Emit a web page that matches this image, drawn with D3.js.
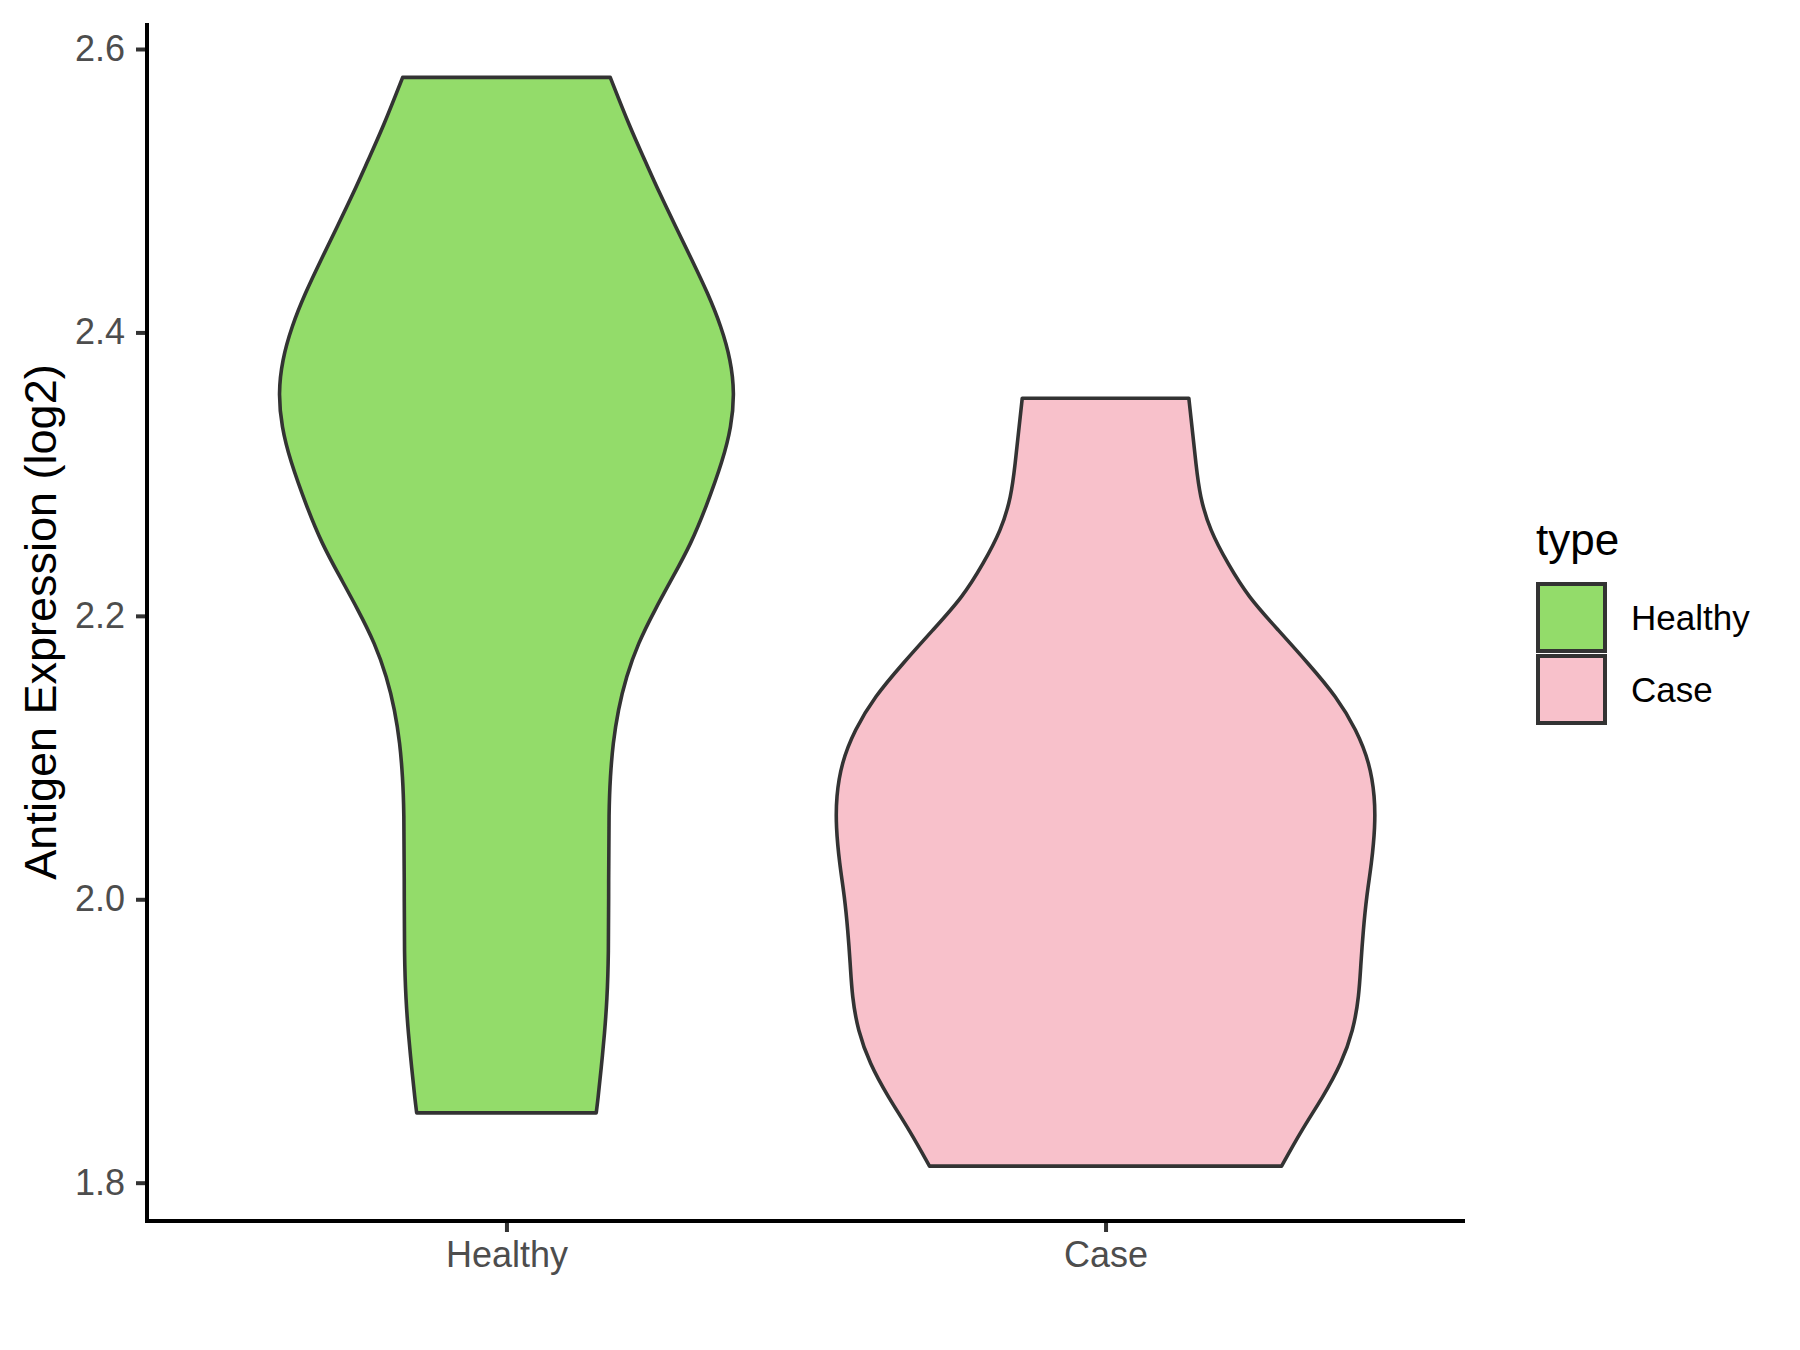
<!DOCTYPE html>
<html>
<head>
<meta charset="utf-8">
<script src="https://cdn.jsdelivr.net/npm/d3@7"></script>
<style>
  body { margin: 0; background: #fff; }
  text { font-family: "Liberation Sans", Arial, sans-serif; }
</style>
</head>
<body>
<svg id="chart" width="1800" height="1350"></svg>
<script>
// categories and legend colours
const categories = ["Healthy", "Case"];
const fills = ["#93dc6a", "#f8c1cb"];
const yTicks = [1.8, 2.0, 2.2, 2.4, 2.6];

// violin outlines: expression value and relative width (1 = widest violin)
const healthyValues = [2.5800, 2.5452, 2.5217, 2.4982, 2.4746, 2.4511, 2.4276, 2.4040, 2.3805, 2.3570,
  2.3334, 2.3099, 2.2770, 2.2511, 2.2276, 2.2041, 2.1806, 2.1570, 2.1335, 2.1100, 2.0864, 2.0629,
  2.0158, 1.9594, 1.9288, 1.9055, 1.8817, 1.8582, 1.8493];
const healthyWidths = [0.385, 0.457, 0.513, 0.568, 0.628, 0.688, 0.747, 0.797, 0.832, 0.846,
  0.834, 0.803, 0.741, 0.685, 0.618, 0.550, 0.488, 0.444, 0.414, 0.395, 0.385, 0.380,
  0.379, 0.379, 0.373, 0.364, 0.352, 0.339, 0.333];

const caseValues = [2.3535, 2.3311, 2.3076, 2.2840, 2.2605, 2.2370, 2.2134, 2.1899, 2.1664, 2.1429,
  2.1194, 2.0959, 2.0723, 2.0511, 2.0253, 2.0017, 1.9782, 1.9547, 1.9312, 1.9076, 1.8841,
  1.8606, 1.8371, 1.8117];
const caseWidths = [0.309, 0.322, 0.335, 0.350, 0.387, 0.453, 0.529, 0.641, 0.752, 0.857,
  0.931, 0.980, 0.999, 1.000, 0.987, 0.968, 0.956, 0.947, 0.940, 0.919, 0.875,
  0.807, 0.727, 0.653];

const violins = [
  { name: "Healthy", values: healthyValues, widths: healthyWidths },
  { name: "Case", values: caseValues, widths: caseWidths }
];

const mLeft = 147, mRight = 1465, mTop = 23, mBottom = 1221;

const svg = d3.select("#chart");

const x = d3.scalePoint().domain(categories).range([mLeft, mRight]).padding(0.6);
const y = d3.scaleLinear().domain([1.8, 2.6]).range([1182.7, 49]);
const color = d3.scaleOrdinal(categories, fills);
const half = x.step() * 0.45;

// violins
violins.forEach(v => {
  const pts = d3.range(v.values.length).map(i => ({ v: v.values[i], w: v.widths[i] }));
  const area = d3.area()
    .y(d => y(d.v))
    .x0(d => x(v.name) - d.w * half)
    .x1(d => x(v.name) + d.w * half)
    .curve(d3.curveBasis);
  svg.append("path")
    .datum(pts)
    .attr("d", area)
    .attr("fill", color(v.name))
    .attr("stroke", "#333333")
    .attr("stroke-width", 3.6)
    .attr("stroke-linejoin", "round");
});

// axes
const yAxis = svg.append("g")
  .attr("transform", `translate(${mLeft},0)`)
  .call(d3.axisLeft(y).tickValues(yTicks).tickFormat(d3.format(".1f")).tickSize(11).tickPadding(11));
const xAxis = svg.append("g")
  .attr("transform", `translate(0,${mBottom})`)
  .call(d3.axisBottom(x).tickSize(11).tickPadding(9));

[yAxis, xAxis].forEach(g => {
  g.select(".domain").remove();
  g.selectAll(".tick line").attr("stroke", "#333333").attr("stroke-width", 4);
  g.selectAll(".tick text")
    .attr("fill", "#4d4d4d")
    .attr("font-size", 36)
    .attr("font-family", "Liberation Sans, Arial, sans-serif");
});

svg.append("path")
  .attr("d", `M${mLeft},${mTop}V${mBottom}H${mRight}`)
  .attr("fill", "none")
  .attr("stroke", "#000")
  .attr("stroke-width", 4);

// axis title
svg.append("text")
  .attr("transform", `translate(56,${(mTop + mBottom) / 2}) rotate(-90)`)
  .attr("text-anchor", "middle")
  .attr("font-size", 45)
  .attr("fill", "#000")
  .text("Antigen Expression (log2)");

// legend
const legend = svg.append("g").attr("transform", "translate(1536,0)");
legend.append("text")
  .attr("x", 0)
  .attr("y", 555)
  .attr("font-size", 44)
  .text("type");

const keys = legend.selectAll("g.key")
  .data(categories)
  .join("g")
  .attr("class", "key")
  .attr("transform", (d, i) => `translate(0,${582 + i * 72})`);

keys.append("rect")
  .attr("x", 2)
  .attr("y", 2)
  .attr("width", 67)
  .attr("height", 67)
  .attr("fill", d => color(d))
  .attr("stroke", "#333333")
  .attr("stroke-width", 4);

keys.append("text")
  .attr("x", 95)
  .attr("y", 36)
  .attr("dy", "0.35em")
  .attr("font-size", 35)
  .text(d => d);
</script>
</body>
</html>
